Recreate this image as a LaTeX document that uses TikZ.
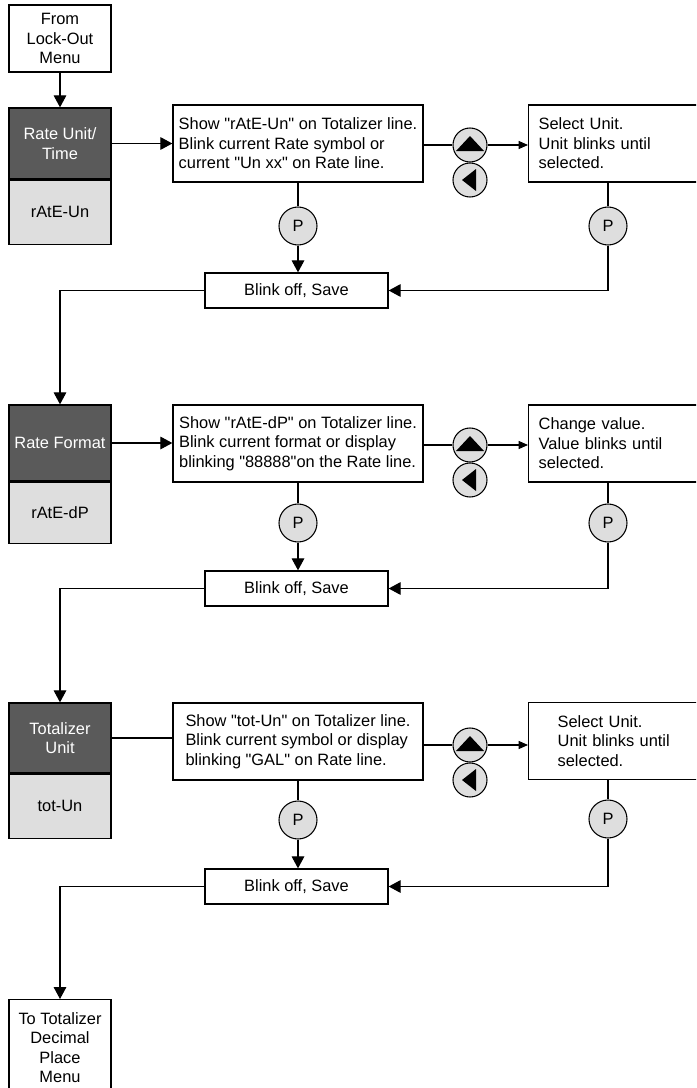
\documentclass[tikz,border=0pt]{standalone}
\usepackage{fontspec}
\setmainfont{Liberation Sans}[Ligatures=TeXOff]
\usetikzlibrary{arrows.meta,positioning}
\definecolor{keygrey}{HTML}{DEDEDE}
\definecolor{menugrey}{HTML}{5A5A5A}
\tikzset{
	txt/.style={font=\fontsize{12.3}{14.6}\selectfont},
	menubox/.style={txt, draw, line width=1pt, minimum width=76.5pt, align=center, inner sep=0pt},
	namebox/.style={menubox, fill=menugrey, text=white},
	codebox/.style={menubox, fill=keygrey},
	showbox/.style={txt, draw, line width=1pt, fill=white, minimum width=187.5pt, minimum height=57.75pt, align=left, inner sep=0pt},
	selbox/.style={txt, draw, line width=1pt, anchor=west, minimum height=57.75pt, align=left, inner ysep=0pt, inner xsep=7.5pt, text width=125pt},
	savebox/.style={txt, draw, line width=1pt, minimum width=137.25pt, minimum height=26.25pt, inner sep=0pt},
	pkey/.style={txt, circle, draw, line width=0.8pt, fill=keygrey, minimum size=28.5pt, inner sep=0pt},
	navkey/.style={circle, draw, line width=0.8pt, fill=keygrey, minimum size=25.5pt, inner sep=0pt},
	upkey/.style={navkey, path picture={\fill[black] (path picture bounding box.center) ++(0pt,6.75pt) -- ++(10.5pt,-11.25pt) -- ++(-21pt,0pt) -- cycle;}},
	leftkey/.style={navkey, path picture={\fill[black] (path picture bounding box.center) ++(-6pt,0pt) -- ++(10.5pt,8.25pt) -- ++(0pt,-16.5pt) -- cycle;}},
	link/.style={line width=0.8pt},
	bigtip/.style={-{Triangle[width=9.5pt,length=9pt]}},
	smalltip/.style={-{Triangle[width=6pt,length=7pt]}}
}

\begin{document}
\begin{tikzpicture}[x=0.75pt, y=-0.75pt]
			%%%%% START %%%%%
			\useasboundingbox (0,0) rectangle (696,1088);
			\clip (0,0) rectangle (696,1088);
			
			\node[menubox, minimum height=50.25pt] (from) at (60,38.5) {From\\Lock-Out\\Menu};
			
			% rate unit
			\node[namebox, minimum height=53.25pt] (rut) at (60,143.5) {Rate Unit/\\Time};
			\node[codebox, minimum height=48pt, below=0pt of rut] (rub) {rAtE-Un};
			\node[showbox] (show1) at (298,143.5) {Show "rAtE-Un" on Totalizer line.\\Blink current Rate symbol or\\current "Un xx" on Rate line.};
			\node[upkey] (up1) at (470,145) {};
			\node[leftkey] (dn1) at (470,180) {};
			\node[selbox] (sel1) at (528,143.5) {Select Unit.\\Unit blinks until\\selected.};
			\node[pkey] (p1a) at (298,226) {P};
			\node[pkey] (p1b) at (608,226) {P};
			\node[savebox] (save1) at (296.5,290.5) {Blink off, Save};
			
			% rate format
			\node[namebox, minimum height=57pt] (rft) at (60,443) {Rate Format};
			\node[codebox, minimum height=45.75pt, below=0pt of rft] (rfb) {rAtE-dP};
			\node[showbox] (show2) at (298,443.5) {Show "rAtE-dP" on Totalizer line.\\Blink current format or display\\blinking "88888"on the Rate line.};
			\node[upkey] (up2) at (470,445) {};
			\node[leftkey] (dn2) at (470,480) {};
			\node[selbox] (sel2) at (528,443.5) {Change value.\\Value blinks until\\selected.};
			\node[pkey] (p2a) at (298,523) {P};
			\node[pkey] (p2b) at (608,523) {P};
			\node[savebox] (save2) at (296.5,588.5) {Blink off, Save};
			
			% totalizer unit
			\node[namebox, minimum height=52.5pt] (tut) at (60,738) {Totalizer\\Unit};
			\node[codebox, minimum height=48pt, below=0pt of tut] (tub) {tot-Un};
			\node[showbox] (show3) at (298,741.5) {Show "tot-Un" on Totalizer line.\\Blink current symbol or display\\blinking "GAL" on Rate line.};
			\node[upkey] (up3) at (470,745) {};
			\node[leftkey] (dn3) at (470,780) {};
			\node[selbox, inner xsep=21.75pt, text width=96pt] (sel3) at (528,741) {Select Unit.\\Unit blinks until\\selected.};
			\node[pkey] (p3a) at (298,820) {P};
			\node[pkey] (p3b) at (608,819) {P};
			\node[savebox] (save3) at (296.5,886.5) {Blink off, Save};
			
			\node[menubox, minimum height=72pt, anchor=north] (next) at (60,999) {To Totalizer\\Decimal\\Place\\Menu};
			
			% connectors
			\draw[link, bigtip] (from) -- (rut);
			\draw[link, bigtip] (rut.east) -- (rut.east -| show1.west);
			\draw[link] (show1.east |- up1) -- (up1);
			\draw[link, smalltip] (up1) -- (up1 -| sel1.west);
			\draw[link] (show1.south -| p1a) -- (p1a);
			\draw[link, bigtip] (p1a) -- (p1a |- save1.north);
			\draw[link] (sel1.south -| p1b) -- (p1b);
			\draw[link, bigtip] (p1b) |- (save1.east);
			\draw[link, bigtip] (save1.west) -| (rft);
			
			\draw[link, bigtip] (rft.east) -- (rft.east -| show2.west);
			\draw[link] (show2.east |- up2) -- (up2);
			\draw[link, smalltip] (up2) -- (up2 -| sel2.west);
			\draw[link] (show2.south -| p2a) -- (p2a);
			\draw[link, bigtip] (p2a) -- (p2a |- save2.north);
			\draw[link] (sel2.south -| p2b) -- (p2b);
			\draw[link, bigtip] (p2b) |- (save2.east);
			\draw[link, bigtip] (save2.west) -| (tut);
			
			\draw[link] (tut.east) -- (tut.east -| show3.west);
			\draw[link] (show3.east |- up3) -- (up3);
			\draw[link, smalltip] (up3) -- (up3 -| sel3.west);
			\draw[link] (show3.south -| p3a) -- (p3a);
			\draw[link, bigtip] (p3a) -- (p3a |- save3.north);
			\draw[link] (sel3.south -| p3b) -- (p3b);
			\draw[link, bigtip] (p3b) |- (save3.east);
			\draw[link, bigtip] (save3.west) -| (next);
			
			%%%%% END %%%%%
\end{tikzpicture}
\end{document}
